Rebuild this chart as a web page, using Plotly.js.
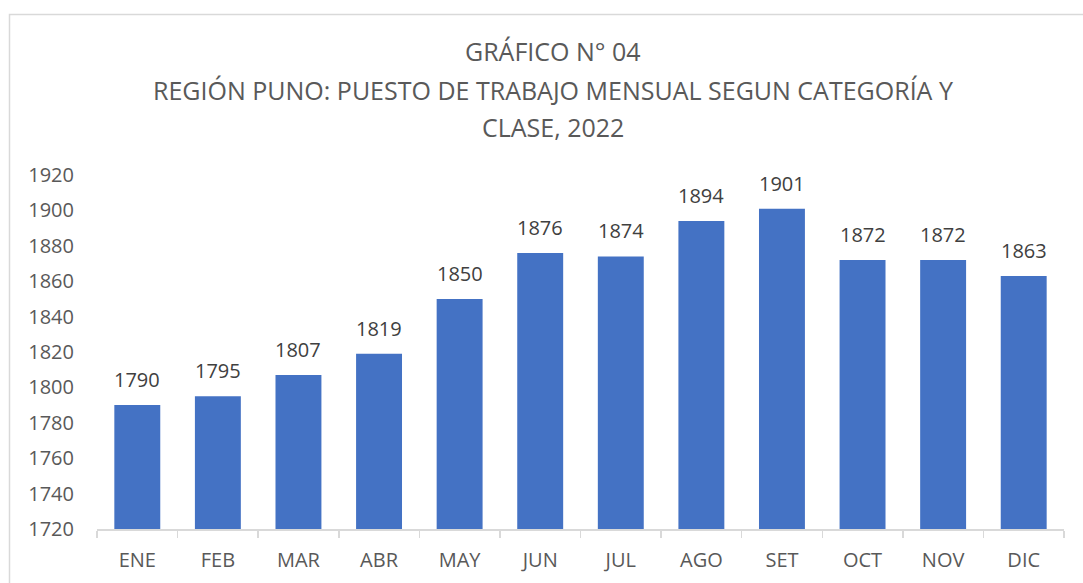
<!DOCTYPE html>
<html>
<head>
<meta charset="utf-8">
<script src="https://cdn.plot.ly/plotly-3.0.1.min.js"></script>
<style>html,body{margin:0;padding:0;background:#fff;}#chart{width:1083px;height:583px;}</style>
</head>
<body>
<div id="chart"></div>
<script>
const months = ["ENE","FEB","MAR","ABR","MAY","JUN","JUL","AGO","SET","OCT","NOV","DIC"];
const puestos = [1790,1795,1807,1819,1850,1876,1874,1894,1901,1872,1872,1863];
const titleLines = ["GRÁFICO N° 04","REGIÓN PUNO: PUESTO DE TRABAJO MENSUAL SEGUN CATEGORÍA Y","CLASE, 2022"];
const yTicks = [1720,1740,1760,1780,1800,1820,1840,1860,1880,1900,1920];

const FONT = "Open Sans, Liberation Sans, sans-serif";
const W = 1083, H = 583, L = 97, R = 19, T = 175, B = 54;
const pw = W - L - R, ph = H - T - B;
const px = x => (x - L) / pw;
const py = y => (H - B - y) / ph;
const titleY = [51, 90, 127];

const trace = {
  type: "bar",
  x: months,
  y: puestos,
  marker: {color: "#4472C4"},
  hoverinfo: "none"
};

const dataLabels = months.map((m, i) => ({
  text: String(puestos[i]), xref: "x", yref: "y",
  x: m, y: puestos[i], xanchor: "center", yanchor: "bottom",
  yshift: 10, showarrow: false,
  font: {family: FONT, size: 20, color: "#404040"}
}));

const titleAnns = titleLines.map((t, i) => ({
  text: t, xref: "paper", yref: "paper",
  x: px(553), y: py(titleY[i]), xanchor: "center", yanchor: "middle",
  showarrow: false,
  font: {family: FONT, size: 25, color: "#595959"}
}));

const layout = {
  width: W, height: H,
  margin: {l: L, r: R, t: T, b: B, pad: 0},
  paper_bgcolor: "#ffffff",
  plot_bgcolor: "#ffffff",
  showlegend: false,
  bargap: 0.43,
  font: {family: FONT, color: "#595959"},
  xaxis: {
    type: "category",
    showline: true, linecolor: "#d9d9d9", linewidth: 1.5,
    ticks: "outside", tickson: "boundaries", ticklen: 7, tickcolor: "#d9d9d9", tickwidth: 1.5,
    tickfont: {family: FONT, size: 20, color: "#595959"},
    ticklabelstandoff: 12,
    showgrid: false, zeroline: false, fixedrange: true
  },
  yaxis: {
    range: [1720, 1920],
    tickvals: yTicks,
    ticktext: yTicks.map(String),
    showline: false, showgrid: false, zeroline: false,
    ticks: "",
    tickfont: {family: FONT, size: 20, color: "#595959"},
    ticklabelstandoff: 22,
    fixedrange: true
  },
  annotations: titleAnns.concat(dataLabels),
  shapes: [{
    type: "rect", xref: "paper", yref: "paper",
    x0: px(9.5), x1: px(1100), y0: py(14.5), y1: py(620),
    line: {color: "#d9d9d9", width: 1.5}, fillcolor: "rgba(0,0,0,0)", layer: "below"
  }]
};

Plotly.newPlot("chart", [trace], layout, {displayModeBar: false, staticPlot: true});
</script>
</body>
</html>
